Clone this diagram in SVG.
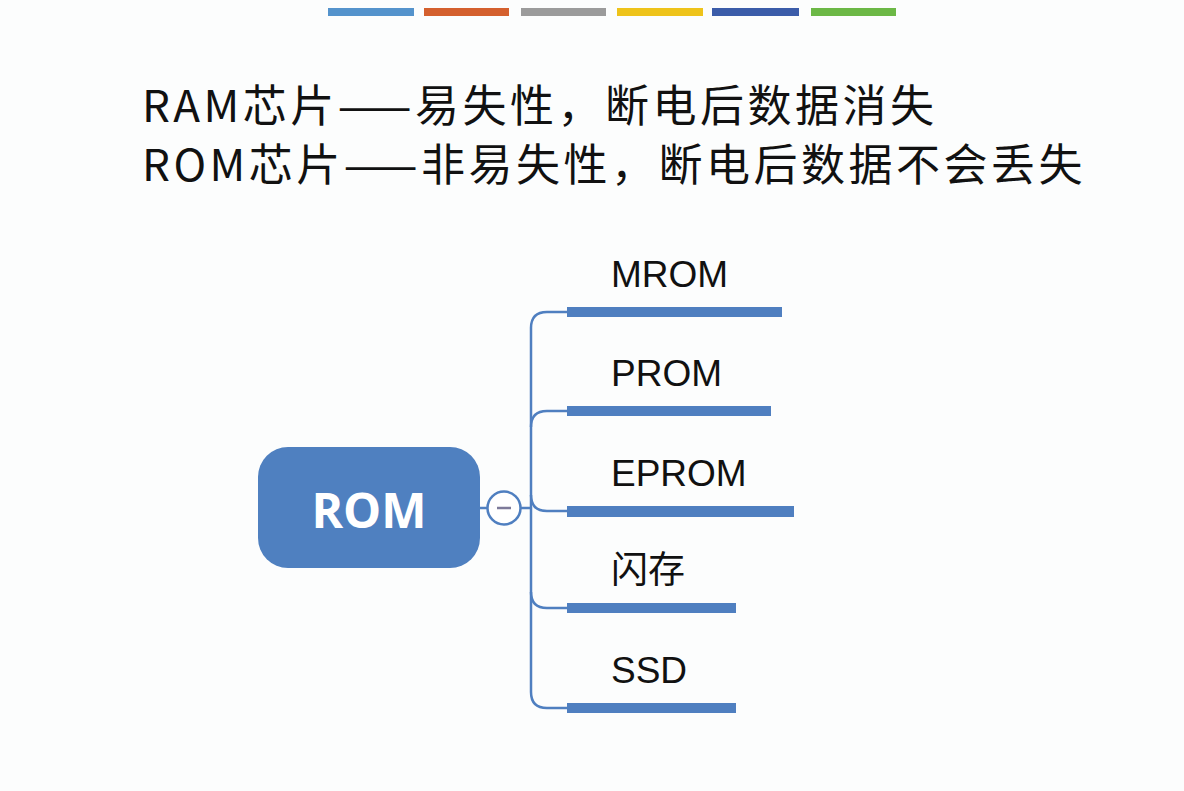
<svg xmlns="http://www.w3.org/2000/svg" width="1184" height="791" viewBox="0 0 1184 791">
<style>
.hdr{font-family:"Noto Sans CJK SC","Liberation Sans",sans-serif;font-size:44px;letter-spacing:3.5px;fill:#111}
.lbl{font-family:"Liberation Sans","Noto Sans CJK SC",sans-serif;font-size:37px;fill:#111}
.bar{fill:#4f7fc0}
.conn{fill:none;stroke:#4f7fc0;stroke-width:2.5}
</style>
<rect width="1184" height="791" fill="#fcfdfd"/>
<g id="colorbars">
<rect x="328" y="8" width="86" height="8" fill="#5493cc"/>
<rect x="424" y="8" width="85" height="8" fill="#d4602e"/>
<rect x="521" y="8" width="85" height="8" fill="#9b9b9b"/>
<rect x="617" y="8" width="86" height="8" fill="#eec31a"/>
<rect x="712" y="8" width="87" height="8" fill="#3b5ca9"/>
<rect x="811" y="8" width="85" height="8" fill="#6cb846"/>
</g>
<g id="header">
<text class="hdr" x="142" y="122">RAM芯片——易失性，断电后数据消失</text>
<text class="hdr" x="142" y="181">ROM芯片——非易失性，断电后数据不会丢失</text>
</g>
<g id="connectors">
<line class="conn" x1="480" y1="508" x2="487" y2="508"/>
<path class="conn" d="M521 508 H531"/>
<path class="conn" d="M567 312 H547 Q531 312 531 328 V692 Q531 708 547 708 H567"/>
<path class="conn" d="M567 411 H547 Q531 411 531 427"/>
<path class="conn" d="M531 495 Q531 511 547 511 H567"/>
<path class="conn" d="M531 592 Q531 608 547 608 H567"/>
</g>
<g id="node-rom">
<rect x="258" y="447" width="222" height="121" rx="30" fill="#4f80c0"/>
<text x="369" y="528" text-anchor="middle" font-family="'Open Sans','Liberation Sans',sans-serif" font-weight="bold" font-size="48" fill="#ffffff">ROM</text>
</g>
<g id="collapse">
<circle cx="504" cy="508" r="16.5" fill="#ffffff" stroke="#4f7fc0" stroke-width="2.5"/>
<line x1="497" y1="508" x2="511" y2="508" stroke="#7d7a9a" stroke-width="2.5"/>
</g>
<g id="node-mrom">
<rect class="bar" x="567" y="307" width="215" height="10"/>
<text class="lbl" x="611" y="287">MROM</text>
</g>
<g id="node-prom">
<rect class="bar" x="567" y="406" width="204" height="10"/>
<text class="lbl" x="611" y="386">PROM</text>
</g>
<g id="node-eprom">
<rect class="bar" x="567" y="506" width="227" height="11"/>
<text class="lbl" x="611" y="486">EPROM</text>
</g>
<g id="node-flash">
<rect class="bar" x="567" y="603" width="169" height="10"/>
<text class="lbl" x="611" y="583" font-family="'Noto Sans CJK SC',sans-serif">闪存</text>
</g>
<g id="node-ssd">
<rect class="bar" x="567" y="703" width="169" height="10"/>
<text class="lbl" x="611" y="683">SSD</text>
</g>
</svg>
